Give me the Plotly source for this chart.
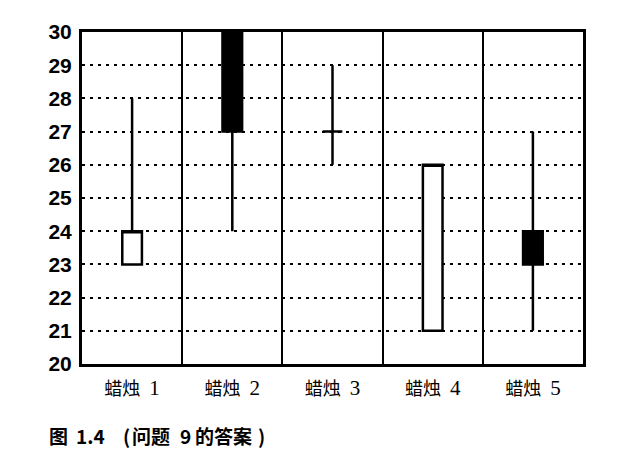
import plotly.graph_objects as go

categories = ["蜡烛 1", "蜡烛 2", "蜡烛 3", "蜡烛 4", "蜡烛 5"]
open_ = [23, 30, 27, 21, 24]
close = [24, 27, 27, 26, 23]
high = [28, 30, 29, 26, 27]
low = [23, 24, 26, 21, 21]
y_ticks = list(range(20, 31))
caption_parts = [("图", 47), ("1.4", 74), ("(", 121), ("问题", 130), ("9", 178), ("的答案", 193), (")", 256)]

xpos = list(range(1, len(categories) + 1))
dividers = [p + 0.5 for p in xpos[:-1]]


def fmt_label(s):
    word, num = s.split(" ")
    return f"{word}  <span style='font-size:21px'>{num}</span>"


fig = go.Figure(go.Candlestick(
    x=xpos, open=open_, high=high, low=low, close=close,
    increasing=dict(line=dict(color="black", width=2.5), fillcolor="white"),
    decreasing=dict(line=dict(color="black", width=2.5), fillcolor="black"),
    whiskerwidth=0, showlegend=False, hoverinfo="skip",
))

L, T, PW, PH = 82, 32, 501, 332
annotations = []
for txt, px in caption_parts:
    annotations.append(dict(
        text=txt, xref="paper", yref="paper",
        x=(px - L) / PW, y=(T + PH - 435) / PH,
        xanchor="left", yanchor="middle", showarrow=False,
        font=dict(family="Noto Sans CJK SC, Liberation Sans", size=19, color="black", weight="bold"),
    ))

fig.update_layout(
    width=622, height=469,
    margin=dict(l=L, r=622 - L - PW, t=T, b=469 - T - PH),
    paper_bgcolor="white", plot_bgcolor="white",
    boxgap=0.72,
    xaxis=dict(
        range=[0.5, len(categories) + 0.5],
        tickvals=xpos, ticktext=[fmt_label(c) for c in categories],
        showgrid=False, zeroline=False,
        showline=True, linecolor="black", linewidth=3, mirror=True,
        ticks="", ticklabelstandoff=6,
        tickfont=dict(family="Liberation Serif, Noto Sans CJK SC", size=18, color="black"),
        rangeslider=dict(visible=False),
        minor=dict(tickvals=dividers, showgrid=True, gridcolor="black", gridwidth=2, ticks=""),
        fixedrange=True,
    ),
    yaxis=dict(
        range=[20, 30],
        tickvals=y_ticks,
        showgrid=True, gridcolor="black", gridwidth=2, griddash="3px,5px",
        zeroline=False,
        showline=True, linecolor="black", linewidth=3, mirror=True,
        ticks="", ticklabelstandoff=3,
        tickfont=dict(family="Liberation Sans, Arial", size=21, color="black", weight="bold"),
        fixedrange=True,
    ),
    annotations=annotations,
)

fig.write_html("out.html", config={"displayModeBar": False},
               post_script="document.body.style.margin='0';")
